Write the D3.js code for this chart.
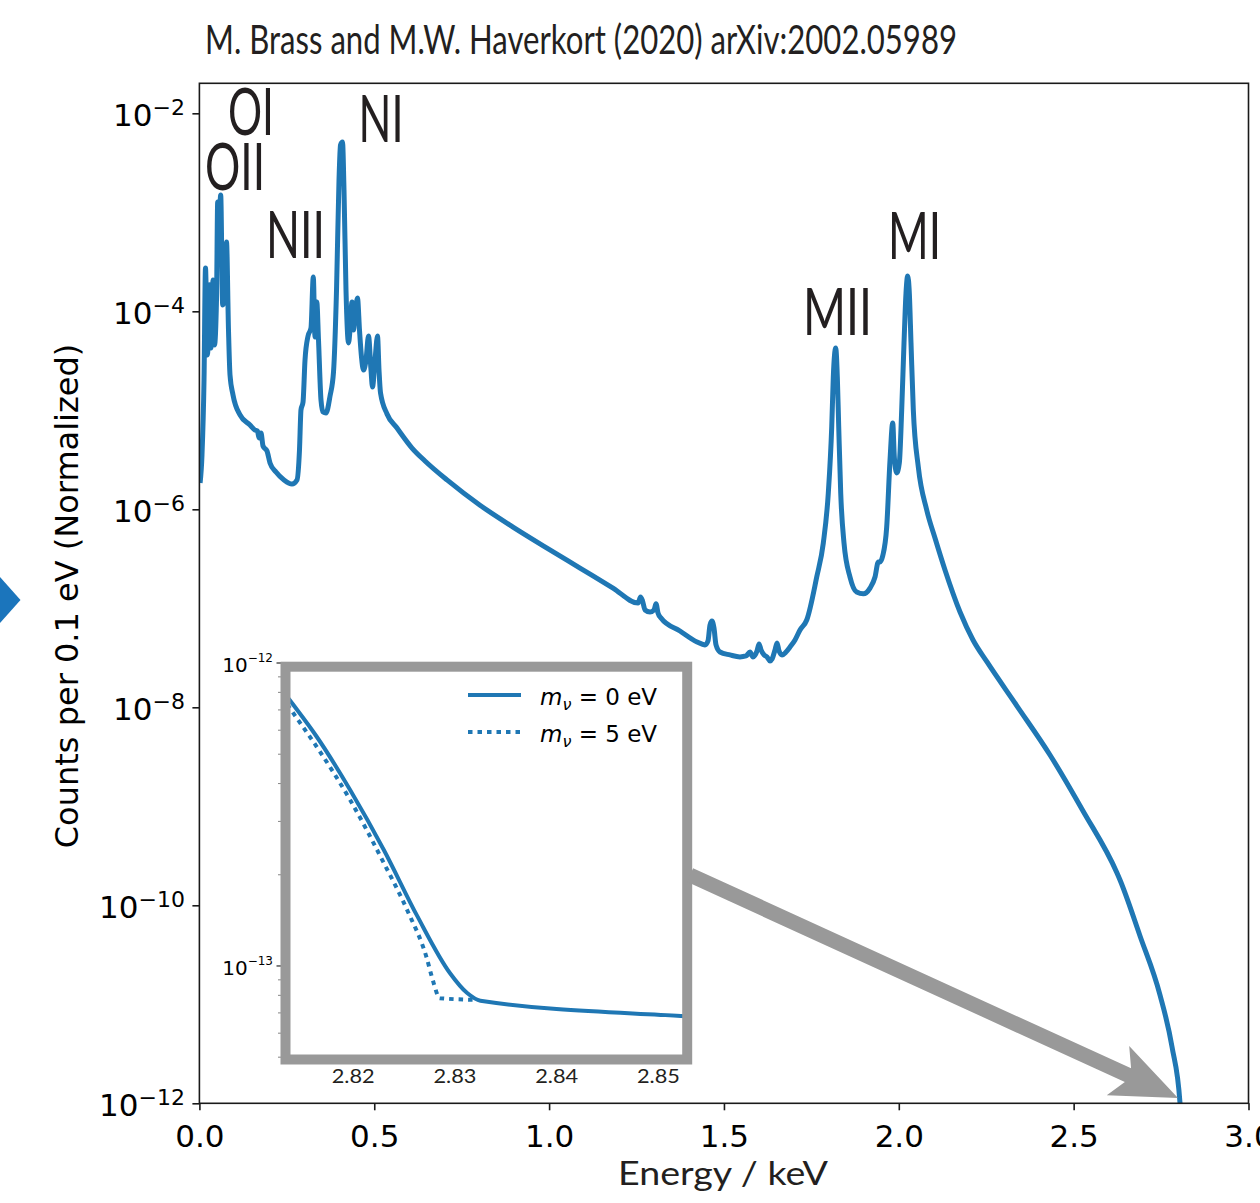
<!DOCTYPE html>
<meta charset="utf-8">
<script src="https://d3js.org/d3.v7.min.js"></script>
<style>
  body { margin: 0; background: #fff; }
  .cond { font-family: Lato, "Open Sans", sans-serif; fill: #231f20; }
</style>
<body>
<svg id="chart" width="1260" height="1203"></svg>

<script>
// electron capture spectrum of 163Ho, energy in keV
const energy = [0.002, 0.0074, 0.0132, 0.0174, 0.0232, 0.0289, 0.0332, 0.0389, 0.0432, 0.0489,
  0.0523, 0.0560, 0.0609, 0.0666, 0.0718, 0.0775, 0.0832, 0.0875, 0.0961, 0.1161,
  0.1447, 0.1590, 0.1661, 0.1704, 0.1762, 0.1819, 0.1933, 0.2019, 0.2190, 0.2419,
  0.2648, 0.2791, 0.2862, 0.2905, 0.2963, 0.3020, 0.3106, 0.3191, 0.3257, 0.3306,
  0.3357, 0.3406, 0.3477, 0.3534, 0.3620, 0.3735, 0.3835, 0.3921, 0.3992, 0.4035,
  0.4092, 0.4135, 0.4192, 0.4264, 0.4307, 0.4364, 0.4407, 0.4450, 0.4521, 0.4578,
  0.4635, 0.4693, 0.4764, 0.4836, 0.4907, 0.4950, 0.5022, 0.5093, 0.5136, 0.5179,
  0.5365, 0.5651, 0.6080, 0.6451, 0.7080, 0.8024, 0.8968, 0.9940, 1.0884, 1.1828,
  1.2543, 1.2614, 1.2671, 1.2743, 1.2886, 1.3000, 1.3057, 1.3114, 1.3200, 1.3743,
  1.4230, 1.4458, 1.4544, 1.4601, 1.4658, 1.4715, 1.4773, 1.4887, 1.5173, 1.5459,
  1.5631, 1.5745, 1.5831, 1.5946, 1.6003, 1.6060, 1.6146, 1.6232, 1.6317, 1.6375,
  1.6460, 1.6518, 1.6575, 1.6660, 1.6775, 1.6889, 1.7032, 1.7175, 1.7367, 1.7653,
  1.7841, 1.7984, 1.8082, 1.8127, 1.8196, 1.8242, 1.8282, 1.8339, 1.8433, 1.8605,
  1.8796, 1.8985, 1.9177, 1.9320, 1.9414, 1.9463, 1.9540, 1.9654, 1.9749, 1.9826,
  1.9872, 1.9940, 2.0015, 2.0083, 2.0149, 2.0206, 2.0255, 2.0301, 2.0349, 2.0415,
  2.0558, 2.0798, 2.1035, 2.1321, 2.1751, 2.2122, 2.2523, 2.3381, 2.4324, 2.5268,
  2.6240, 2.6326, 2.6898, 2.7470, 2.7813, 2.8042, 2.8070];
const counts = [1.85e-6, 3.53e-6, 2.02e-5, 2.74e-4, 3.62e-5, 1.85e-4, 4.26e-5, 2.07e-4, 4.57e-5, 1.30e-4,
  1.27e-3, 7.45e-4, 1.50e-3, 1.16e-4, 1.30e-4, 5.01e-4, 6.47e-5, 2.28e-5, 1.43e-5, 8.98e-6,
  7.10e-6, 6.32e-6, 6.18e-6, 5.25e-6, 5.90e-6, 4.36e-6, 3.88e-6, 2.94e-6, 2.38e-6, 1.98e-6,
  1.80e-6, 1.98e-6, 3.97e-6, 1.01e-5, 1.21e-5, 3.22e-5, 5.62e-5, 6.78e-5, 2.22e-4, 5.50e-5,
  1.24e-4, 5.13e-5, 1.27e-5, 9.62e-6, 9.40e-6, 1.39e-5, 2.44e-5, 1.64e-4, 2.12e-3, 4.79e-3,
  5.13e-3, 1.68e-3, 1.64e-4, 4.79e-5, 6.47e-5, 1.24e-4, 6.47e-5, 9.18e-5, 1.36e-4, 6.47e-5,
  3.45e-5, 2.55e-5, 3.22e-5, 5.62e-5, 2.55e-5, 1.72e-5, 3.22e-5, 5.62e-5, 2.55e-5, 1.50e-5,
  9.18e-6, 6.62e-6, 4.16e-6, 3.08e-6, 1.98e-6, 1.10e-6, 6.62e-7, 4.06e-7, 2.55e-7, 1.60e-7,
  1.13e-7, 1.30e-7, 1.19e-7, 9.62e-8, 9.18e-8, 9.62e-8, 1.11e-7, 8.97e-8, 7.98e-8, 5.90e-8,
  4.57e-8, 4.27e-8, 4.68e-8, 6.78e-8, 7.45e-8, 6.32e-8, 4.27e-8, 3.62e-8, 3.38e-8, 3.23e-8,
  3.30e-8, 3.62e-8, 3.23e-8, 3.71e-8, 4.37e-8, 3.80e-8, 3.38e-8, 3.23e-8, 2.94e-8, 3.08e-8,
  3.80e-8, 4.47e-8, 3.71e-8, 3.38e-8, 3.62e-8, 4.06e-8, 4.79e-8, 6.04e-8, 7.62e-8, 2.07e-7,
  4.56e-7, 1.46e-6, 6.79e-6, 2.17e-5, 4.26e-5, 2.17e-5, 6.79e-6, 1.46e-6, 4.56e-7, 2.07e-7,
  1.46e-7, 1.40e-7, 1.60e-7, 2.07e-7, 2.94e-7, 2.94e-7, 3.38e-7, 6.62e-7, 3.15e-6, 7.45e-6,
  3.37e-6, 2.33e-6, 2.94e-6, 1.01e-5, 4.79e-5, 1.53e-4, 2.28e-4, 1.53e-4, 4.79e-5, 1.01e-5,
  2.67e-6, 9.84e-7, 5.13e-7, 2.44e-7, 9.18e-8, 4.79e-8, 2.87e-8, 1.03e-8, 3.30e-9, 8.97e-10,
  2.12e-10, 1.80e-10, 4.90e-11, 1.24e-11, 3.71e-12, 1.0e-12, 1.0e-13];

// inset: endpoint region for two neutrino masses
const endEnergy0 = [2.8130, 2.8140, 2.8164, 2.8197, 2.8230, 2.8263, 2.8295, 2.8312, 2.8325, 2.8522, 2.8535];
const endCounts0 = [8.15e-13, 7.36e-13, 5.72e-13, 3.81e-13, 2.42e-13, 1.46e-13, 9.48e-14, 8.14e-14, 7.68e-14, 6.84e-14, 6.80e-14];
const endEnergy5 = [2.8130, 2.8141, 2.8164, 2.8197, 2.8230, 2.8253, 2.8272, 2.8279, 2.8285, 2.8321];
const endCounts5 = [7.74e-13, 6.84e-13, 5.30e-13, 3.53e-13, 2.19e-13, 1.53e-13, 1.07e-13, 8.8e-14, 7.83e-14, 7.73e-14];

const xTicks = [0, 0.5, 1, 1.5, 2, 2.5, 3];
const yTicks = [1e-2, 1e-4, 1e-6, 1e-8, 1e-10, 1e-12];
const insetXTicks = [2.82, 2.83, 2.84, 2.85];
const insetYTicks = [1e-12, 1e-13];
const insetMinor = [2e-13, 3e-13, 4e-13, 5e-13, 6e-13, 7e-13, 8e-13, 9e-13, 5e-14, 6e-14, 7e-14, 8e-14, 9e-14];
const legendLabels = ["0 eV", "5 eV"];

const blue = "#1f77b4";
const svg = d3.select("#chart");

// main axes
const x = d3.scaleLinear().domain([0, 3]).range([199.4, 1248.5]);
const y = d3.scaleLog().domain([1e-12, 0.0201]).range([1103.3, 83.3]);
const [x0, x1] = x.range(), [yb, yt] = y.range();

svg.append("defs").append("clipPath").attr("id", "plotClip")
  .append("rect").attr("x", x0).attr("y", yt).attr("width", x1 - x0).attr("height", yb - yt);

// left slide marker
svg.append("path").attr("d", "M0,577L20.5,600L0,623Z").attr("fill", "#1b75bc");

const spectrum = energy.map((e, i) => [e, counts[i]]);
const line = d3.line().x(d => x(d[0])).y(d => y(d[1])).curve(d3.curveMonotoneX);

svg.append("path").datum(spectrum)
  .attr("clip-path", "url(#plotClip)")
  .attr("fill", "none").attr("stroke", blue).attr("stroke-width", 5)
  .attr("stroke-linejoin", "round")
  .attr("d", line);

svg.append("rect").attr("x", x0).attr("y", yt).attr("width", x1 - x0).attr("height", yb - yt)
  .attr("fill", "none").attr("stroke", "#1a1a1a").attr("stroke-width", 1.6);

const xAxis = svg.append("g").attr("transform", `translate(0,${yb})`)
  .call(d3.axisBottom(x).tickValues(xTicks).tickSize(7).tickPadding(15).tickFormat(d3.format(".1f")));
xAxis.select(".domain").remove();
xAxis.selectAll("line").attr("stroke", "#1a1a1a").attr("stroke-width", 1.6);
xAxis.selectAll("text").attr("font-family", "DejaVu Sans").attr("font-size", 31).attr("fill", "#000");

const yAxis = svg.append("g").attr("transform", `translate(${x0},0)`)
  .call(d3.axisLeft(y).tickValues(yTicks).tickSize(7).tickFormat(() => ""));
yAxis.select(".domain").remove();
yAxis.selectAll("line").attr("stroke", "#1a1a1a").attr("stroke-width", 1.6);

svg.append("g").selectAll("text").data(yTicks).join("text")
  .attr("x", 185).attr("y", d => y(d) + 13)
  .attr("text-anchor", "end").attr("font-family", "DejaVu Sans").attr("font-size", 31)
  .each(function (d) {
    const t = d3.select(this);
    t.append("tspan").text("10");
    t.append("tspan").attr("font-size", 22).attr("dy", -11).text("\u2212" + (-Math.round(Math.log10(d))));
  });

svg.append("text")
  .attr("transform", "translate(78,596) rotate(-90)")
  .attr("text-anchor", "middle").attr("font-family", "DejaVu Sans").attr("font-size", 32)
  .text("Counts per 0.1 eV (Normalized)");

svg.append("text").attr("class", "cond")
  .attr("x", 618).attr("y", 1185).attr("font-size", 32)
  .attr("textLength", 210).attr("lengthAdjust", "spacingAndGlyphs")
  .text("Energy / keV");

svg.append("text").attr("class", "cond")
  .attr("x", 205).attr("y", 54).attr("font-size", 41)
  .attr("textLength", 752).attr("lengthAdjust", "spacingAndGlyphs")
  .text("M. Brass and M.W. Haverkort (2020) arXiv:2002.05989");

// shell labels
const shellNames = ["OI", "OII", "NI", "NII", "MII", "MI"];
const shellPos = [[228, 135, 46], [205, 190, 60], [358.5, 141.5, 45], [266, 258, 59], [803, 335, 69], [888, 259, 53]];
svg.append("g").selectAll("text").data(shellNames).join("text")
  .attr("class", "cond")
  .attr("x", (d, i) => shellPos[i][0]).attr("y", (d, i) => shellPos[i][1])
  .attr("font-size", 65)
  .attr("textLength", (d, i) => shellPos[i][2]).attr("lengthAdjust", "spacingAndGlyphs")
  .text(d => d);

// inset
const ix = d3.scaleLinear().domain([2.8131, 2.8531]).range([283, 690]);
const iy = d3.scaleLog().domain([4.82e-14, 1e-12]).range([1062, 663]);
const inset = svg.append("g");

inset.append("rect").attr("x", 281).attr("y", 662).attr("width", 411).attr("height", 402).attr("fill", "#fff");
inset.append("defs").append("clipPath").attr("id", "insetClip")
  .append("rect").attr("x", 283).attr("y", 663).attr("width", 407).attr("height", 399);

const iline = d3.line().x(d => ix(d[0])).y(d => iy(d[1])).curve(d3.curveMonotoneX);
const end0 = endEnergy0.map((e, i) => [e, endCounts0[i]]);
const end5 = endEnergy5.map((e, i) => [e, endCounts5[i]]);

inset.append("path").datum(end5).attr("clip-path", "url(#insetClip)")
  .attr("fill", "none").attr("stroke", blue).attr("stroke-width", 4)
  .attr("stroke-dasharray", "4.5,5").attr("d", iline);
inset.append("path").datum(end0).attr("clip-path", "url(#insetClip)")
  .attr("fill", "none").attr("stroke", blue).attr("stroke-width", 4).attr("d", iline);

inset.append("g").selectAll("line").data(insetMinor).join("line")
  .attr("x1", 278).attr("x2", 283).attr("y1", d => iy(d)).attr("y2", d => iy(d))
  .attr("stroke", "#666").attr("stroke-width", 0.8);
inset.append("g").selectAll("line").data(insetYTicks).join("line")
  .attr("x1", 276.5).attr("x2", 283).attr("y1", d => iy(d)).attr("y2", d => iy(d))
  .attr("stroke", "#000").attr("stroke-width", 1);

inset.append("g").selectAll("text").data(insetYTicks).join("text")
  .attr("x", 273).attr("y", d => iy(d) + 9)
  .attr("text-anchor", "end").attr("font-family", "DejaVu Sans").attr("font-size", 20)
  .each(function (d) {
    const t = d3.select(this);
    t.append("tspan").text("10");
    t.append("tspan").attr("font-size", 12).attr("dy", -10).text("\u2212" + (-Math.round(Math.log10(d))));
  });

inset.append("g").selectAll("text").data(insetXTicks).join("text")
  .attr("class", "cond")
  .attr("x", d => ix(d) - 21.5).attr("y", 1083).attr("font-size", 19)
  .attr("textLength", 43).attr("lengthAdjust", "spacingAndGlyphs")
  .attr("fill", "#000")
  .text(d => d.toFixed(2));

// legend
const legendY = [695, 732];
legendLabels.forEach((lab, i) => {
  inset.append("line").attr("x1", 468).attr("x2", 521).attr("y1", legendY[i]).attr("y2", legendY[i])
    .attr("stroke", blue).attr("stroke-width", 4)
    .attr("stroke-dasharray", i === 1 ? "4.5,5" : null);
  const t = inset.append("text").attr("x", 540).attr("y", legendY[i] + 10)
    .attr("font-family", "DejaVu Sans").attr("font-size", 23);
  t.append("tspan").attr("font-style", "italic").text("m");
  t.append("tspan").attr("font-style", "italic").attr("font-size", 16).attr("dy", 5).text("\u03bd");
  t.append("tspan").attr("dy", -5).text(" = " + lab);
});

inset.append("rect").attr("x", 285.5).attr("y", 666.7).attr("width", 401.7).attr("height", 392.8)
  .attr("fill", "none").attr("stroke", "#999").attr("stroke-width", 10);

// zoom arrow
const arrowStart = [690, 875], arrowTip = [1178, 1098];
const adx = arrowTip[0] - arrowStart[0], ady = arrowTip[1] - arrowStart[1];
const alen = Math.hypot(adx, ady), ux = adx / alen, uy = ady / alen;
const pt = (u, v) => [arrowStart[0] + u * ux - v * uy, arrowStart[1] + u * uy + v * ux];
const shaft = 7.5, headLen = 66, headHalf = 27, notch = 11;
const arrowPts = [pt(0, -shaft), pt(alen - headLen + notch, -shaft), pt(alen - headLen, -headHalf),
  pt(alen, 0), pt(alen - headLen, headHalf), pt(alen - headLen + notch, shaft), pt(0, shaft)];
svg.append("path").attr("d", "M" + arrowPts.map(p => p.join(",")).join("L") + "Z").attr("fill", "#999");
</script>
</body>
